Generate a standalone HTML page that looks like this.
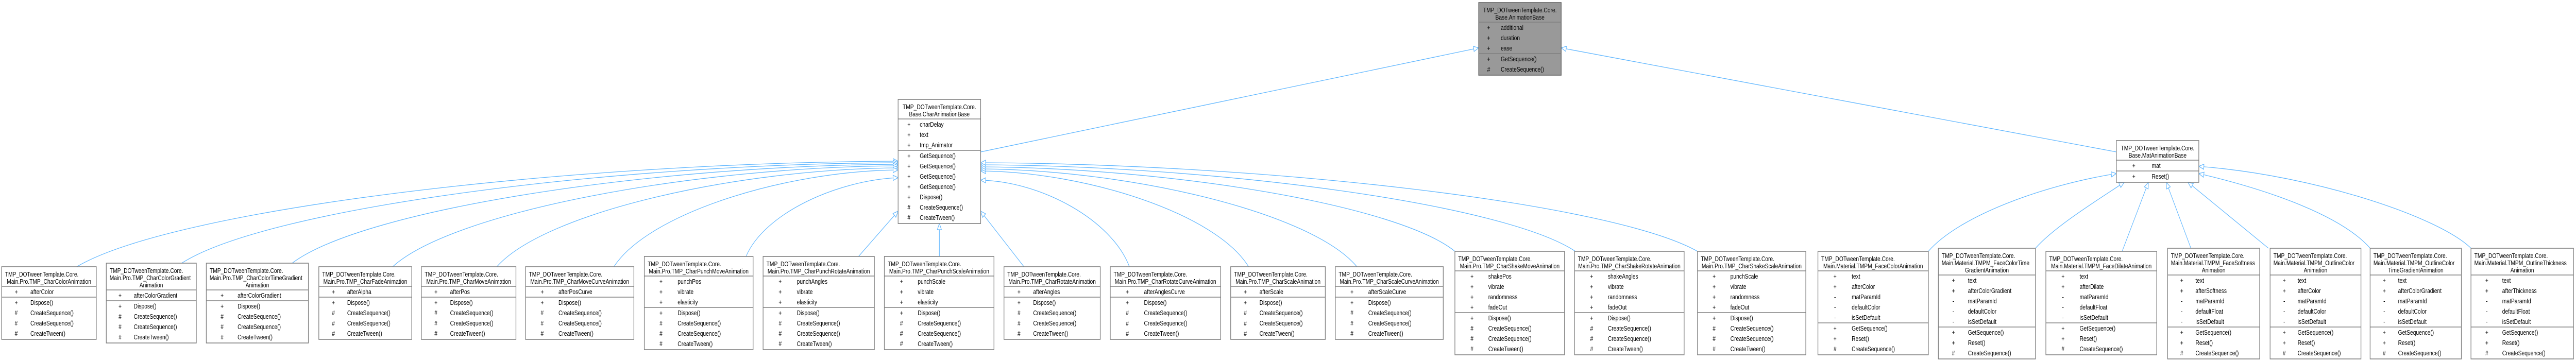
<!DOCTYPE html>
<html><head><meta charset="utf-8"><style>
html,body{margin:0;padding:0;background:#fff;width:100%;height:100%;overflow:hidden;}
svg{display:block;width:100vw;height:100vh;}
text{font-family:"Liberation Sans",Arial,sans-serif;font-size:12.7px;fill:#000;}
.b{fill:#fff;stroke:#808080;stroke-width:1.6;}
.g{fill:#999999;stroke:#666;stroke-width:1.6;}
.s{stroke:#808080;stroke-width:1.6;}
.e{fill:none;stroke:#63b8ff;stroke-width:1.3;marker-start:url(#a);}
.c{text-anchor:middle;}
</style></head><body>
<svg viewBox="0 0 6181 701" preserveAspectRatio="none" xmlns="http://www.w3.org/2000/svg">
<defs><marker id="a" markerUnits="userSpaceOnUse" markerWidth="16" markerHeight="14" refX="13" refY="6" orient="auto-start-reverse" overflow="visible"><path d="M1,1 L13,6 L1,11 Z" fill="#fff" stroke="#63b8ff" stroke-width="1.3"/></marker></defs>

<path class="e" d="M2155,313 C1367,315 420,405 184,518"/>
<path class="e" d="M2155,316 C1467,318 642,404 436,511"/>
<path class="e" d="M2155,319 C1573,321 875,405 701,511"/>
<path class="e" d="M2155,322 C1670,324 1088,410 942,518"/>
<path class="e" d="M2155,326 C1770,328 1308,412 1192,518"/>
<path class="e" d="M2155,330 C1882,332 1555,415 1473,518"/>
<path class="e" d="M2155,345 C2009,350 1834,414 1790,498"/>
<path class="e" d="M2155,410 L2060,498"/>
<path class="e" d="M2254,434 L2254,498"/>
<path class="e" d="M2353,410 L2457,518"/>
<path class="e" d="M2353,350 C2496,352 2667,426 2710,518"/>
<path class="e" d="M2353,332 C2610,334 2919,416 2996,518"/>
<path class="e" d="M2353,328 C2714,330 3148,413 3256,518"/>
<path class="e" d="M2353,324 C2808,326 3354,398 3491,488"/>
<path class="e" d="M2353,320 C2924,322 3609,396 3780,488"/>
<path class="e" d="M2353,316 C3041,318 3867,394 4073,488"/>
<path class="e" d="M5078,337 C4900,360 4700,420 4627,488"/>
<path class="e" d="M5097,354 C5030,390 4930,440 4884,482"/>
<path class="e" d="M5155,354 L5092,488"/>
<path class="e" d="M5198,354 L5257,482"/>
<path class="e" d="M5250,354 L5443,482"/>
<path class="e" d="M5276,337 C5450,370 5620,420 5687,482"/>
<path class="e" d="M5276,323 C5550,340 5850,420 5929,482"/>
<path class="e" d="M3548,93 L2353,295"/>
<path class="e" d="M3746,93 L5078,295"/>

<rect class="g" x="3548" y="5" width="198" height="141"/>
<line class="s" x1="3548" y1="43" x2="3746" y2="43"/><line class="s" x1="3548" y1="104" x2="3746" y2="104"/>
<text class="c" x="3647" y="24">TMP_DOTweenTemplate.Core.</text><text class="c" x="3647" y="38">Base.AnimationBase</text>
<text class="c" x="3572" y="58">+</text><text x="3601" y="58">additional</text>
<text class="c" x="3572" y="78">+</text><text x="3601" y="78">duration</text>
<text class="c" x="3572" y="98">+</text><text x="3601" y="98">ease</text>
<text class="c" x="3572" y="119">+</text><text x="3601" y="119">GetSequence()</text>
<text class="c" x="3572" y="139">#</text><text x="3601" y="139">CreateSequence()</text>

<rect class="b" x="2155" y="193" width="198" height="241"/>
<line class="s" x1="2155" y1="231" x2="2353" y2="231"/><line class="s" x1="2155" y1="292" x2="2353" y2="292"/>
<text class="c" x="2254" y="212">TMP_DOTweenTemplate.Core.</text><text class="c" x="2254" y="226">Base.CharAnimationBase</text>
<text class="c" x="2181" y="246">+</text><text x="2207" y="246">charDelay</text>
<text class="c" x="2181" y="266">+</text><text x="2207" y="266">text</text>
<text class="c" x="2181" y="286">+</text><text x="2207" y="286">tmp_Animator</text>
<text class="c" x="2181" y="307">+</text><text x="2207" y="307">GetSequence()</text>
<text class="c" x="2181" y="327">+</text><text x="2207" y="327">GetSequence()</text>
<text class="c" x="2181" y="347">+</text><text x="2207" y="347">GetSequence()</text>
<text class="c" x="2181" y="367">+</text><text x="2207" y="367">GetSequence()</text>
<text class="c" x="2181" y="387">+</text><text x="2207" y="387">Dispose()</text>
<text class="c" x="2181" y="407">#</text><text x="2207" y="407">CreateSequence()</text>
<text class="c" x="2181" y="427">#</text><text x="2207" y="427">CreateTween()</text>

<rect class="b" x="5078" y="273" width="198" height="81"/>
<line class="s" x1="5078" y1="311" x2="5276" y2="311"/><line class="s" x1="5078" y1="332" x2="5276" y2="332"/>
<text class="c" x="5177" y="292">TMP_DOTweenTemplate.Core.</text><text class="c" x="5177" y="306">Base.MatAnimationBase</text>
<text class="c" x="5120" y="326">+</text><text x="5163" y="326">mat</text>
<text class="c" x="5120" y="347">+</text><text x="5163" y="347">Reset()</text>

<rect class="b" x="4" y="518" width="227" height="141"/>
<line class="s" x1="4" y1="556" x2="231" y2="556"/><line class="s" x1="4" y1="577" x2="231" y2="577"/>
<text x="12" y="537">TMP_DOTweenTemplate.Core.</text><text class="c" x="117.5" y="551">Main.Pro.TMP_CharColorAnimation</text>
<text class="c" x="39" y="571">+</text><text x="73" y="571">afterColor</text>
<text class="c" x="39" y="592">+</text><text x="73" y="592">Dispose()</text>
<text class="c" x="39" y="612">#</text><text x="73" y="612">CreateSequence()</text>
<text class="c" x="39" y="632">#</text><text x="73" y="632">CreateSequence()</text>
<text class="c" x="39" y="652">#</text><text x="73" y="652">CreateTween()</text>

<rect class="b" x="255" y="511" width="216" height="155"/>
<line class="s" x1="255" y1="563" x2="471" y2="563"/><line class="s" x1="255" y1="584" x2="471" y2="584"/>
<text x="263" y="530">TMP_DOTweenTemplate.Core.</text><text x="263" y="544">Main.Pro.TMP_CharColorGradient</text><text class="c" x="363" y="558">Animation</text>
<text class="c" x="288" y="578">+</text><text x="321" y="578">afterColorGradient</text>
<text class="c" x="288" y="599">+</text><text x="321" y="599">Dispose()</text>
<text class="c" x="288" y="619">#</text><text x="321" y="619">CreateSequence()</text>
<text class="c" x="288" y="639">#</text><text x="321" y="639">CreateSequence()</text>
<text class="c" x="288" y="659">#</text><text x="321" y="659">CreateTween()</text>

<rect class="b" x="495" y="511" width="245" height="155"/>
<line class="s" x1="495" y1="563" x2="740" y2="563"/><line class="s" x1="495" y1="584" x2="740" y2="584"/>
<text x="503" y="530">TMP_DOTweenTemplate.Core.</text><text x="503" y="544">Main.Pro.TMP_CharColorTimeGradient</text><text class="c" x="617.5" y="558">Animation</text>
<text class="c" x="533" y="578">+</text><text x="570" y="578">afterColorGradient</text>
<text class="c" x="533" y="599">+</text><text x="570" y="599">Dispose()</text>
<text class="c" x="533" y="619">#</text><text x="570" y="619">CreateSequence()</text>
<text class="c" x="533" y="639">#</text><text x="570" y="639">CreateSequence()</text>
<text class="c" x="533" y="659">#</text><text x="570" y="659">CreateTween()</text>

<rect class="b" x="765" y="518" width="223" height="141"/>
<line class="s" x1="765" y1="556" x2="988" y2="556"/><line class="s" x1="765" y1="577" x2="988" y2="577"/>
<text x="773" y="537">TMP_DOTweenTemplate.Core.</text><text class="c" x="876.5" y="551">Main.Pro.TMP_CharFadeAnimation</text>
<text class="c" x="800" y="571">+</text><text x="833" y="571">afterAlpha</text>
<text class="c" x="800" y="592">+</text><text x="833" y="592">Dispose()</text>
<text class="c" x="800" y="612">#</text><text x="833" y="612">CreateSequence()</text>
<text class="c" x="800" y="632">#</text><text x="833" y="632">CreateSequence()</text>
<text class="c" x="800" y="652">#</text><text x="833" y="652">CreateTween()</text>

<rect class="b" x="1011" y="518" width="227" height="141"/>
<line class="s" x1="1011" y1="556" x2="1238" y2="556"/><line class="s" x1="1011" y1="577" x2="1238" y2="577"/>
<text x="1019" y="537">TMP_DOTweenTemplate.Core.</text><text class="c" x="1124.5" y="551">Main.Pro.TMP_CharMoveAnimation</text>
<text class="c" x="1046" y="571">+</text><text x="1080" y="571">afterPos</text>
<text class="c" x="1046" y="592">+</text><text x="1080" y="592">Dispose()</text>
<text class="c" x="1046" y="612">#</text><text x="1080" y="612">CreateSequence()</text>
<text class="c" x="1046" y="632">#</text><text x="1080" y="632">CreateSequence()</text>
<text class="c" x="1046" y="652">#</text><text x="1080" y="652">CreateTween()</text>

<rect class="b" x="1261" y="518" width="260" height="141"/>
<line class="s" x1="1261" y1="556" x2="1521" y2="556"/><line class="s" x1="1261" y1="577" x2="1521" y2="577"/>
<text x="1269" y="537">TMP_DOTweenTemplate.Core.</text><text class="c" x="1391" y="551">Main.Pro.TMP_CharMoveCurveAnimation</text>
<text class="c" x="1301" y="571">+</text><text x="1340" y="571">afterPosCurve</text>
<text class="c" x="1301" y="592">+</text><text x="1340" y="592">Dispose()</text>
<text class="c" x="1301" y="612">#</text><text x="1340" y="612">CreateSequence()</text>
<text class="c" x="1301" y="632">#</text><text x="1340" y="632">CreateSequence()</text>
<text class="c" x="1301" y="652">#</text><text x="1340" y="652">CreateTween()</text>

<rect class="b" x="1546" y="498" width="261" height="181"/>
<line class="s" x1="1546" y1="536" x2="1807" y2="536"/><line class="s" x1="1546" y1="597" x2="1807" y2="597"/>
<text x="1554" y="517">TMP_DOTweenTemplate.Core.</text><text class="c" x="1676.5" y="531">Main.Pro.TMP_CharPunchMoveAnimation</text>
<text class="c" x="1586" y="551">+</text><text x="1626" y="551">punchPos</text>
<text class="c" x="1586" y="571">+</text><text x="1626" y="571">vibrate</text>
<text class="c" x="1586" y="591">+</text><text x="1626" y="591">elasticity</text>
<text class="c" x="1586" y="612">+</text><text x="1626" y="612">Dispose()</text>
<text class="c" x="1586" y="632">#</text><text x="1626" y="632">CreateSequence()</text>
<text class="c" x="1586" y="652">#</text><text x="1626" y="652">CreateSequence()</text>
<text class="c" x="1586" y="672">#</text><text x="1626" y="672">CreateTween()</text>

<rect class="b" x="1831" y="498" width="267" height="181"/>
<line class="s" x1="1831" y1="536" x2="2098" y2="536"/><line class="s" x1="1831" y1="597" x2="2098" y2="597"/>
<text x="1839" y="517">TMP_DOTweenTemplate.Core.</text><text class="c" x="1964.5" y="531">Main.Pro.TMP_CharPunchRotateAnimation</text>
<text class="c" x="1872" y="551">+</text><text x="1912" y="551">punchAngles</text>
<text class="c" x="1872" y="571">+</text><text x="1912" y="571">vibrate</text>
<text class="c" x="1872" y="591">+</text><text x="1912" y="591">elasticity</text>
<text class="c" x="1872" y="612">+</text><text x="1912" y="612">Dispose()</text>
<text class="c" x="1872" y="632">#</text><text x="1912" y="632">CreateSequence()</text>
<text class="c" x="1872" y="652">#</text><text x="1912" y="652">CreateSequence()</text>
<text class="c" x="1872" y="672">#</text><text x="1912" y="672">CreateTween()</text>

<rect class="b" x="2122" y="498" width="263" height="181"/>
<line class="s" x1="2122" y1="536" x2="2385" y2="536"/><line class="s" x1="2122" y1="597" x2="2385" y2="597"/>
<text x="2130" y="517">TMP_DOTweenTemplate.Core.</text><text class="c" x="2253.5" y="531">Main.Pro.TMP_CharPunchScaleAnimation</text>
<text class="c" x="2163" y="551">+</text><text x="2202" y="551">punchScale</text>
<text class="c" x="2163" y="571">+</text><text x="2202" y="571">vibrate</text>
<text class="c" x="2163" y="591">+</text><text x="2202" y="591">elasticity</text>
<text class="c" x="2163" y="612">+</text><text x="2202" y="612">Dispose()</text>
<text class="c" x="2163" y="632">#</text><text x="2202" y="632">CreateSequence()</text>
<text class="c" x="2163" y="652">#</text><text x="2202" y="652">CreateSequence()</text>
<text class="c" x="2163" y="672">#</text><text x="2202" y="672">CreateTween()</text>

<rect class="b" x="2409" y="518" width="231" height="141"/>
<line class="s" x1="2409" y1="556" x2="2640" y2="556"/><line class="s" x1="2409" y1="577" x2="2640" y2="577"/>
<text x="2417" y="537">TMP_DOTweenTemplate.Core.</text><text class="c" x="2524.5" y="551">Main.Pro.TMP_CharRotateAnimation</text>
<text class="c" x="2445" y="571">+</text><text x="2479" y="571">afterAngles</text>
<text class="c" x="2445" y="592">+</text><text x="2479" y="592">Dispose()</text>
<text class="c" x="2445" y="612">#</text><text x="2479" y="612">CreateSequence()</text>
<text class="c" x="2445" y="632">#</text><text x="2479" y="632">CreateSequence()</text>
<text class="c" x="2445" y="652">#</text><text x="2479" y="652">CreateTween()</text>

<rect class="b" x="2664" y="518" width="265" height="141"/>
<line class="s" x1="2664" y1="556" x2="2929" y2="556"/><line class="s" x1="2664" y1="577" x2="2929" y2="577"/>
<text x="2672" y="537">TMP_DOTweenTemplate.Core.</text><text class="c" x="2796.5" y="551">Main.Pro.TMP_CharRotateCurveAnimation</text>
<text class="c" x="2705" y="571">+</text><text x="2745" y="571">afterAnglesCurve</text>
<text class="c" x="2705" y="592">+</text><text x="2745" y="592">Dispose()</text>
<text class="c" x="2705" y="612">#</text><text x="2745" y="612">CreateSequence()</text>
<text class="c" x="2705" y="632">#</text><text x="2745" y="632">CreateSequence()</text>
<text class="c" x="2705" y="652">#</text><text x="2745" y="652">CreateTween()</text>

<rect class="b" x="2953" y="518" width="227" height="141"/>
<line class="s" x1="2953" y1="556" x2="3180" y2="556"/><line class="s" x1="2953" y1="577" x2="3180" y2="577"/>
<text x="2961" y="537">TMP_DOTweenTemplate.Core.</text><text class="c" x="3066.5" y="551">Main.Pro.TMP_CharScaleAnimation</text>
<text class="c" x="2988" y="571">+</text><text x="3022" y="571">afterScale</text>
<text class="c" x="2988" y="592">+</text><text x="3022" y="592">Dispose()</text>
<text class="c" x="2988" y="612">#</text><text x="3022" y="612">CreateSequence()</text>
<text class="c" x="2988" y="632">#</text><text x="3022" y="632">CreateSequence()</text>
<text class="c" x="2988" y="652">#</text><text x="3022" y="652">CreateTween()</text>

<rect class="b" x="3204" y="518" width="259" height="141"/>
<line class="s" x1="3204" y1="556" x2="3463" y2="556"/><line class="s" x1="3204" y1="577" x2="3463" y2="577"/>
<text x="3212" y="537">TMP_DOTweenTemplate.Core.</text><text class="c" x="3333.5" y="551">Main.Pro.TMP_CharScaleCurveAnimation</text>
<text class="c" x="3244" y="571">+</text><text x="3283" y="571">afterScaleCurve</text>
<text class="c" x="3244" y="592">+</text><text x="3283" y="592">Dispose()</text>
<text class="c" x="3244" y="612">#</text><text x="3283" y="612">CreateSequence()</text>
<text class="c" x="3244" y="632">#</text><text x="3283" y="632">CreateSequence()</text>
<text class="c" x="3244" y="652">#</text><text x="3283" y="652">CreateTween()</text>

<rect class="b" x="3491" y="488" width="263" height="201"/>
<line class="s" x1="3491" y1="526" x2="3754" y2="526"/><line class="s" x1="3491" y1="607" x2="3754" y2="607"/>
<text x="3499" y="507">TMP_DOTweenTemplate.Core.</text><text class="c" x="3622.5" y="521">Main.Pro.TMP_CharShakeMoveAnimation</text>
<text class="c" x="3532" y="541">+</text><text x="3571" y="541">shakePos</text>
<text class="c" x="3532" y="561">+</text><text x="3571" y="561">vibrate</text>
<text class="c" x="3532" y="581">+</text><text x="3571" y="581">randomness</text>
<text class="c" x="3532" y="601">+</text><text x="3571" y="601">fadeOut</text>
<text class="c" x="3532" y="622">+</text><text x="3571" y="622">Dispose()</text>
<text class="c" x="3532" y="642">#</text><text x="3571" y="642">CreateSequence()</text>
<text class="c" x="3532" y="662">#</text><text x="3571" y="662">CreateSequence()</text>
<text class="c" x="3532" y="682">#</text><text x="3571" y="682">CreateTween()</text>

<rect class="b" x="3778" y="488" width="263" height="201"/>
<line class="s" x1="3778" y1="526" x2="4041" y2="526"/><line class="s" x1="3778" y1="607" x2="4041" y2="607"/>
<text x="3786" y="507">TMP_DOTweenTemplate.Core.</text><text class="c" x="3909.5" y="521">Main.Pro.TMP_CharShakeRotateAnimation</text>
<text class="c" x="3819" y="541">+</text><text x="3858" y="541">shakeAngles</text>
<text class="c" x="3819" y="561">+</text><text x="3858" y="561">vibrate</text>
<text class="c" x="3819" y="581">+</text><text x="3858" y="581">randomness</text>
<text class="c" x="3819" y="601">+</text><text x="3858" y="601">fadeOut</text>
<text class="c" x="3819" y="622">+</text><text x="3858" y="622">Dispose()</text>
<text class="c" x="3819" y="642">#</text><text x="3858" y="642">CreateSequence()</text>
<text class="c" x="3819" y="662">#</text><text x="3858" y="662">CreateSequence()</text>
<text class="c" x="3819" y="682">#</text><text x="3858" y="682">CreateTween()</text>

<rect class="b" x="4073" y="488" width="260" height="201"/>
<line class="s" x1="4073" y1="526" x2="4333" y2="526"/><line class="s" x1="4073" y1="607" x2="4333" y2="607"/>
<text x="4081" y="507">TMP_DOTweenTemplate.Core.</text><text class="c" x="4203" y="521">Main.Pro.TMP_CharShakeScaleAnimation</text>
<text class="c" x="4113" y="541">+</text><text x="4152" y="541">punchScale</text>
<text class="c" x="4113" y="561">+</text><text x="4152" y="561">vibrate</text>
<text class="c" x="4113" y="581">+</text><text x="4152" y="581">randomness</text>
<text class="c" x="4113" y="601">+</text><text x="4152" y="601">fadeOut</text>
<text class="c" x="4113" y="622">+</text><text x="4152" y="622">Dispose()</text>
<text class="c" x="4113" y="642">#</text><text x="4152" y="642">CreateSequence()</text>
<text class="c" x="4113" y="662">#</text><text x="4152" y="662">CreateSequence()</text>
<text class="c" x="4113" y="682">#</text><text x="4152" y="682">CreateTween()</text>

<rect class="b" x="4362" y="488" width="265" height="201"/>
<line class="s" x1="4362" y1="526" x2="4627" y2="526"/><line class="s" x1="4362" y1="627" x2="4627" y2="627"/>
<text x="4370" y="507">TMP_DOTweenTemplate.Core.</text><text class="c" x="4494.5" y="521">Main.Material.TMPM_FaceColorAnimation</text>
<text class="c" x="4403" y="541">+</text><text x="4443" y="541">text</text>
<text class="c" x="4403" y="561">+</text><text x="4443" y="561">afterColor</text>
<text class="c" x="4403" y="581">-</text><text x="4443" y="581">matParamId</text>
<text class="c" x="4403" y="601">-</text><text x="4443" y="601">defaultColor</text>
<text class="c" x="4403" y="621">-</text><text x="4443" y="621">isSetDefault</text>
<text class="c" x="4403" y="642">+</text><text x="4443" y="642">GetSequence()</text>
<text class="c" x="4403" y="662">+</text><text x="4443" y="662">Reset()</text>
<text class="c" x="4403" y="682">#</text><text x="4443" y="682">CreateSequence()</text>

<rect class="b" x="4651" y="482" width="233" height="215"/>
<line class="s" x1="4651" y1="534" x2="4884" y2="534"/><line class="s" x1="4651" y1="635" x2="4884" y2="635"/>
<text x="4659" y="501">TMP_DOTweenTemplate.Core.</text><text x="4659" y="515">Main.Material.TMPM_FaceColorTime</text><text class="c" x="4767.5" y="529">GradientAnimation</text>
<text class="c" x="4687" y="549">+</text><text x="4722" y="549">text</text>
<text class="c" x="4687" y="569">+</text><text x="4722" y="569">afterColorGradient</text>
<text class="c" x="4687" y="589">-</text><text x="4722" y="589">matParamId</text>
<text class="c" x="4687" y="609">-</text><text x="4722" y="609">defaultColor</text>
<text class="c" x="4687" y="629">-</text><text x="4722" y="629">isSetDefault</text>
<text class="c" x="4687" y="650">+</text><text x="4722" y="650">GetSequence()</text>
<text class="c" x="4687" y="670">+</text><text x="4722" y="670">Reset()</text>
<text class="c" x="4687" y="690">#</text><text x="4722" y="690">CreateSequence()</text>

<rect class="b" x="4909" y="488" width="266" height="201"/>
<line class="s" x1="4909" y1="526" x2="5175" y2="526"/><line class="s" x1="4909" y1="627" x2="5175" y2="627"/>
<text x="4917" y="507">TMP_DOTweenTemplate.Core.</text><text class="c" x="5042" y="521">Main.Material.TMPM_FaceDilateAnimation</text>
<text class="c" x="4950" y="541">+</text><text x="4990" y="541">text</text>
<text class="c" x="4950" y="561">+</text><text x="4990" y="561">afterDilate</text>
<text class="c" x="4950" y="581">-</text><text x="4990" y="581">matParamId</text>
<text class="c" x="4950" y="601">-</text><text x="4990" y="601">defaultFloat</text>
<text class="c" x="4950" y="621">-</text><text x="4990" y="621">isSetDefault</text>
<text class="c" x="4950" y="642">+</text><text x="4990" y="642">GetSequence()</text>
<text class="c" x="4950" y="662">+</text><text x="4990" y="662">Reset()</text>
<text class="c" x="4950" y="682">#</text><text x="4990" y="682">CreateSequence()</text>

<rect class="b" x="5201" y="482" width="221" height="215"/>
<line class="s" x1="5201" y1="534" x2="5422" y2="534"/><line class="s" x1="5201" y1="635" x2="5422" y2="635"/>
<text x="5209" y="501">TMP_DOTweenTemplate.Core.</text><text x="5209" y="515">Main.Material.TMPM_FaceSoftness</text><text class="c" x="5311.5" y="529">Animation</text>
<text class="c" x="5235" y="549">+</text><text x="5268" y="549">text</text>
<text class="c" x="5235" y="569">+</text><text x="5268" y="569">afterSoftness</text>
<text class="c" x="5235" y="589">-</text><text x="5268" y="589">matParamId</text>
<text class="c" x="5235" y="609">-</text><text x="5268" y="609">defaultFloat</text>
<text class="c" x="5235" y="629">-</text><text x="5268" y="629">isSetDefault</text>
<text class="c" x="5235" y="650">+</text><text x="5268" y="650">GetSequence()</text>
<text class="c" x="5235" y="670">+</text><text x="5268" y="670">Reset()</text>
<text class="c" x="5235" y="690">#</text><text x="5268" y="690">CreateSequence()</text>

<rect class="b" x="5447" y="482" width="218" height="215"/>
<line class="s" x1="5447" y1="534" x2="5665" y2="534"/><line class="s" x1="5447" y1="635" x2="5665" y2="635"/>
<text x="5455" y="501">TMP_DOTweenTemplate.Core.</text><text x="5455" y="515">Main.Material.TMPM_OutlineColor</text><text class="c" x="5556" y="529">Animation</text>
<text class="c" x="5481" y="549">+</text><text x="5513" y="549">text</text>
<text class="c" x="5481" y="569">+</text><text x="5513" y="569">afterColor</text>
<text class="c" x="5481" y="589">-</text><text x="5513" y="589">matParamId</text>
<text class="c" x="5481" y="609">-</text><text x="5513" y="609">defaultColor</text>
<text class="c" x="5481" y="629">-</text><text x="5513" y="629">isSetDefault</text>
<text class="c" x="5481" y="650">+</text><text x="5513" y="650">GetSequence()</text>
<text class="c" x="5481" y="670">+</text><text x="5513" y="670">Reset()</text>
<text class="c" x="5481" y="690">#</text><text x="5513" y="690">CreateSequence()</text>

<rect class="b" x="5687" y="482" width="219" height="215"/>
<line class="s" x1="5687" y1="534" x2="5906" y2="534"/><line class="s" x1="5687" y1="635" x2="5906" y2="635"/>
<text x="5695" y="501">TMP_DOTweenTemplate.Core.</text><text x="5695" y="515">Main.Material.TMPM_OutlineColor</text><text class="c" x="5796.5" y="529">TimeGradientAnimation</text>
<text class="c" x="5721" y="549">+</text><text x="5754" y="549">text</text>
<text class="c" x="5721" y="569">+</text><text x="5754" y="569">afterColorGradient</text>
<text class="c" x="5721" y="589">-</text><text x="5754" y="589">matParamId</text>
<text class="c" x="5721" y="609">-</text><text x="5754" y="609">defaultColor</text>
<text class="c" x="5721" y="629">-</text><text x="5754" y="629">isSetDefault</text>
<text class="c" x="5721" y="650">+</text><text x="5754" y="650">GetSequence()</text>
<text class="c" x="5721" y="670">+</text><text x="5754" y="670">Reset()</text>
<text class="c" x="5721" y="690">#</text><text x="5754" y="690">CreateSequence()</text>

<rect class="b" x="5929" y="482" width="246" height="215"/>
<line class="s" x1="5929" y1="534" x2="6175" y2="534"/><line class="s" x1="5929" y1="635" x2="6175" y2="635"/>
<text x="5937" y="501">TMP_DOTweenTemplate.Core.</text><text x="5937" y="515">Main.Material.TMPM_OutlineThickness</text><text class="c" x="6052" y="529">Animation</text>
<text class="c" x="5967" y="549">+</text><text x="6004" y="549">text</text>
<text class="c" x="5967" y="569">+</text><text x="6004" y="569">afterThickness</text>
<text class="c" x="5967" y="589">-</text><text x="6004" y="589">matParamId</text>
<text class="c" x="5967" y="609">-</text><text x="6004" y="609">defaultFloat</text>
<text class="c" x="5967" y="629">-</text><text x="6004" y="629">isSetDefault</text>
<text class="c" x="5967" y="650">+</text><text x="6004" y="650">GetSequence()</text>
<text class="c" x="5967" y="670">+</text><text x="6004" y="670">Reset()</text>
<text class="c" x="5967" y="690">#</text><text x="6004" y="690">CreateSequence()</text>
</svg>
</body></html>
